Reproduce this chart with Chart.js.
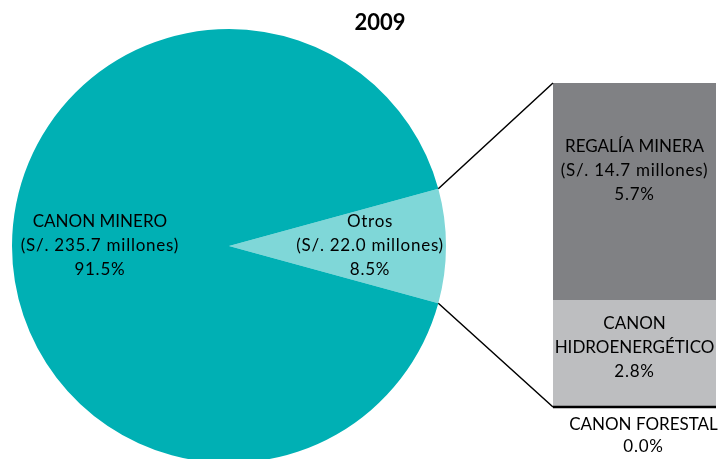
<!DOCTYPE html>
<html>
<head>
<meta charset="utf-8">
<script src="https://cdn.jsdelivr.net/npm/chart.js@4/dist/chart.umd.min.js"></script>
<style>
body { margin: 0; width: 721px; height: 459px; overflow: hidden; background: #fff; position: relative; }
canvas { position: absolute; }
</style>
</head>
<body>
<canvas id="pie" width="434" height="434" style="left:12px;top:29px"></canvas>
<canvas id="bar" width="163" height="324" style="left:553px;top:83px"></canvas>
<canvas id="over" width="721" height="459" style="left:0;top:0"></canvas>
<script>
const titulo = '2009'

// pie: Otros first so it can be turned to the right
const pieNames = ['Otros', 'CANON MINERO']
const pieMillones = ['22.0', '235.7']
const pieShares = [8.5, 91.5]

// bar of the "Otros" slice, bottom to top
const barNames = ['CANON FORESTAL', 'CANON HIDROENERGÉTICO', 'REGALÍA MINERA']
const barShares = [0.0, 2.8, 5.7]
const barMillones = [null, null, '14.7']

const fuente = 'Lato, "Open Sans", sans-serif'

const pieChart = new Chart(document.getElementById('pie'), {
	type: 'pie',
	data: {
		labels: pieNames,
		datasets: [{
			data: pieShares,
			backgroundColor: ['#7fd7d8', '#00b0b4'],
			borderWidth: 0
		}]
	},
	options: {
		responsive: false,
		animation: false,
		rotation: 90 - pieShares[0] * 3.6 / 2,
		layout: { padding: 0 },
		plugins: { legend: { display: false }, tooltip: { enabled: false } }
	}
})

const barColors = ['#000000', '#bdbec0', '#808184']
const barChart = new Chart(document.getElementById('bar'), {
	type: 'bar',
	data: {
		labels: [''],
		datasets: barNames.map((n, i) => ({
			label: n,
			data: [barShares[i]],
			backgroundColor: barColors[i],
			borderWidth: 0,
			barPercentage: 1,
			categoryPercentage: 1
		}))
	},
	options: {
		responsive: false,
		animation: false,
		layout: { padding: 0 },
		scales: {
			x: { stacked: true, display: false },
			y: { stacked: true, display: false, min: 0, max: barShares.reduce((a, b) => a + b, 0) }
		},
		plugins: { legend: { display: false }, tooltip: { enabled: false } }
	}
})

function offset(c) {
	return { x: parseFloat(c.canvas.style.left), y: parseFloat(c.canvas.style.top) }
}

function texto(ctx, lines, x, y, lh) {
	const top = y - (lines.length - 1) * lh / 2
	lines.forEach((l, i) => {
		// lowercase and digits run a little wider in the original
		ctx.letterSpacing = /[a-z0-9]/.test(l) ? '0.75px' : '0px'
		ctx.fillText(l, x, top + i * lh)
	})
}

function dibujar() {
	const ctx = document.getElementById('over').getContext('2d')
	const po = offset(pieChart)
	const bo = offset(barChart)
	const arcs = pieChart.getDatasetMeta(0).data
	const bars = barNames.map((n, i) => barChart.getDatasetMeta(i).data[0])

	// title
	ctx.fillStyle = '#000'
	ctx.textAlign = 'center'
	ctx.textBaseline = 'middle'
	ctx.font = 'bold 22px ' + fuente
	ctx.fillText(titulo, 380, 23)

	// connectors from the Otros slice to the bar
	const otros = arcs[0]
	const cx = po.x + otros.x, cy = po.y + otros.y, r = otros.outerRadius
	const top = bars[2], bot = bars[0]
	const left = bo.x + top.x - top.width / 2
	const right = bo.x + top.x + top.width / 2
	ctx.strokeStyle = '#000'
	ctx.lineWidth = 1.5
	ctx.beginPath()
	ctx.moveTo(cx + Math.cos(otros.startAngle) * r, cy + Math.sin(otros.startAngle) * r)
	ctx.lineTo(left, bo.y + top.y)
	ctx.moveTo(cx + Math.cos(otros.endAngle) * r, cy + Math.sin(otros.endAngle) * r)
	ctx.lineTo(left, bo.y + bot.base)
	ctx.stroke()

	// forestal 0.0% as a line at the base
	ctx.lineWidth = 2.5
	ctx.beginPath()
	ctx.moveTo(left, bo.y + bot.y)
	ctx.lineTo(right, bo.y + bot.y)
	ctx.stroke()

	// pie labels
	ctx.font = '17px ' + fuente
	const factor = [0.65, 0.595]
	arcs.forEach((a, i) => {
		const mid = (a.startAngle + a.endAngle) / 2
		const x = cx + Math.cos(mid) * r * factor[i]
		const y = cy + Math.sin(mid) * r * factor[i]
		texto(ctx, [pieNames[i], '(S/. ' + pieMillones[i] + ' millones)', pieShares[i].toFixed(1) + '%'], x, y, 24)
	})

	// bar labels
	const lineas = [
		[barNames[0], barShares[0].toFixed(1) + '%'],
		['CANON', 'HIDROENERGÉTICO', barShares[1].toFixed(1) + '%'],
		[barNames[2], '(S/. ' + barMillones[2] + ' millones)', barShares[2].toFixed(1) + '%']
	]
	const dy = [0, -6, -21]
	bars.forEach((b, i) => {
		const x = bo.x + b.x
		let y = bo.y + (b.y + b.base) / 2 + dy[i]
		let px = x
		if (i == 0) { y = bo.y + b.base + 29; px = x + 9 }
		texto(ctx, lineas[i], px, y, i == 0 ? 22 : 24)
	})
}

dibujar()
</script>
</body>
</html>
